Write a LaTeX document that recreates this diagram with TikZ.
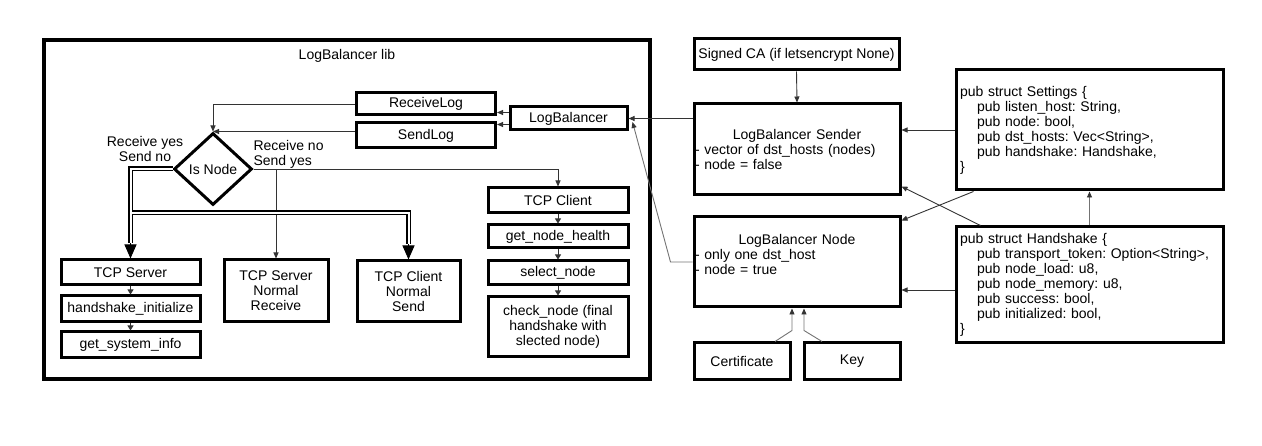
\documentclass[tikz,border=0pt]{standalone}
\usepackage{fontspec}
\setmainfont{Liberation Sans}
\usetikzlibrary{shapes.geometric,arrows.meta,calc}
\begin{document}
\frenchspacing
\begin{tikzpicture}[x=1pt,y=-1pt,
  every node/.style={font=\fontsize{14}{15}\selectfont},
  bx/.style={draw, line width=3pt, inner sep=1pt, align=center},
  conn/.style={draw=black!80, line width=0.9pt, -{Triangle[length=6pt,width=5pt]}},
  gconn/.style={draw=black!55, line width=0.9pt, -{Triangle[length=6pt,width=5pt,color=black!80]}},
  sconn/.style={draw=black!80, line width=0.9pt, -{Triangle[length=5pt,width=6pt]}},
  dblo/.style={draw=black, line width=5pt},
  dbli/.style={draw=white, line width=2pt},
  bigtip/.style={draw=black, line width=1pt, -{Triangle[length=14pt,width=12pt]}},
  structbox/.style={bx, inner sep=4pt, text width=259pt, align=left, minimum width=267pt}
]
\useasboundingbox (0,0) rectangle (1262,446);

% ---------- LogBalancer lib ----------
\node[bx, line width=3.5pt, minimum width=606pt, minimum height=339pt] (outer) at (347,209.5) {};
\node (libl) at (347,56) {LogBalancer lib};

\node[bx, minimum width=139pt, minimum height=22pt] (rl) at (426,104) {ReceiveLog};
\node[bx, minimum width=139pt, minimum height=25pt] (sl) at (426,135.5) {SendLog};
\node[bx, minimum width=117pt, minimum height=23pt] (lb) at (568.5,118.5) {LogBalancer};

\node[draw, diamond, line width=3pt, inner sep=0pt, minimum width=78pt, minimum height=72pt] (dia) at (213,169) {Is Node};
\node[align=center] (lyes) at (145,148.5) {Receive yes\\Send no};
\node[align=left, anchor=west] (lno) at (250,154) {Receive no\\Send yes};

\node[bx, minimum width=139pt, minimum height=25pt] (tcps) at (130.5,272.5) {TCP Server};
\node[bx, minimum width=139pt, minimum height=26pt] (hi) at (130.5,309) {handshake\_initialize};
\node[bx, minimum width=139pt, minimum height=26pt] (gsi) at (130.5,345) {get\_system\_info};

\node[bx, minimum width=104pt, minimum height=62pt] (srvr) at (276,291) {TCP Server\\Normal\\Receive};
\node[bx, minimum width=103pt, minimum height=61pt] (cns) at (408.5,291.5) {TCP Client\\Normal\\Send};

\node[bx, minimum width=140pt, minimum height=25pt] (tcpc) at (558,200.5) {TCP Client};
\node[bx, minimum width=140pt, minimum height=23pt] (gnh) at (558,236.5) {get\_node\_health};
\node[bx, minimum width=140pt, minimum height=24pt] (sn) at (558,273) {select\_node};
\node[bx, minimum width=140pt, minimum height=60pt] (cn) at (558,327) {check\_node (final\\handshake with\\slected node)};

% ---------- right side ----------
\node[bx, minimum width=205pt, minimum height=31pt] (ca) at (796.5,54.5) {Signed CA (if letsencrypt None)};
\node[bx, minimum width=206pt, minimum height=91pt, text width=204pt, align=left] (snd) at (797,149.5)
  {\makebox[204pt]{LogBalancer Sender}\\- vector of dst\_hosts (nodes)\\- node = false};
\node[bx, minimum width=206pt, minimum height=90pt, text width=204pt, align=left] (nb) at (797,262)
  {\makebox[204pt]{LogBalancer Node}\\- only one dst\_host\\- node = true\\\mbox{}};
\node[bx, minimum width=96pt, minimum height=37pt] (cert) at (742,361.5) {Certificate};
\node[bx, minimum width=96pt, minimum height=37pt] (key) at (852,361.5) {Key};

\node[structbox, minimum height=120pt] (set) at (1089.5,130)
  {pub struct Settings \{\\
   \hspace*{17pt}pub listen\_host: String,\\
   \hspace*{17pt}pub node: bool,\\
   \hspace*{17pt}pub dst\_hosts: Vec<String>,\\
   \hspace*{17pt}pub handshake: Handshake,\\
   \}};
\node[structbox, minimum height=116pt] (hs) at (1089.5,285)
  {pub struct Handshake \{\\
   \hspace*{17pt}pub transport\_token: Option<String>,\\
   \hspace*{17pt}pub node\_load: u8,\\
   \hspace*{17pt}pub node\_memory: u8,\\
   \hspace*{17pt}pub success: bool,\\
   \hspace*{17pt}pub initialized: bool,\\
   \}};

% ---------- connectors inside lib ----------
\draw[conn] (rl.west) -| (dia.north);
\draw[conn] (sl.west |- dia.north) -- (dia.north);
\path ([yshift=6pt]lb.west) coordinate (lbA);
\path ([yshift=-6pt]lb.west) coordinate (lbB);
\draw[conn] (lbA) -- (lbA -| rl.east);
\draw[conn] (lbB) -- (lbB -| sl.east);

\draw[conn] (dia.east) -| (tcpc.north);
\draw[conn] (dia.east -| srvr.north) -- (srvr.north);

\coordinate (yb) at (0,213);
\path ([yshift=15pt]tcps.north) coordinate (d1);
\path ([yshift=15pt]cns.north) coordinate (d2);
\draw[dblo] (dia.west) -| (d1);
\draw[dblo] (d1 |- yb) -| (d2);
\draw[dbli] (dia.west) -| (d1);
\draw[dbli] (d1 |- yb) -| (d2);
\draw[bigtip] (d1) -- (tcps.north);
\draw[bigtip] (d2) -- (cns.north);

\draw[sconn] (tcps.south) -- (hi.north);
\draw[sconn] (hi.south) -- (gsi.north);
\draw[sconn] (tcpc.south) -- (gnh.north);
\draw[sconn] (gnh.south) -- (sn.north);
\draw[sconn] (sn.south) -- (cn.north);

% ---------- connectors right side ----------
\draw[conn] (snd.west |- lb.east) -- (lb.east);
\draw[gconn] (nb.west) -- ++(-22,0) -- ([xshift=4pt,yshift=-3.5pt]lb.east);
\draw[conn] (ca.south) -- (snd.north);
\draw[conn] (set.west) -- (set.west -| snd.east);
\draw[conn] ([xshift=26pt]hs.north west) -- ([yshift=10pt]snd.south east);
\draw[conn] ([xshift=19pt]set.south west) -- ([yshift=-5pt]nb.north east);
\draw[gconn] (hs.north) -- (set.south);
\path ([yshift=-5pt]hs.west) coordinate (hsA);
\draw[conn] (hsA) -- (hsA -| nb.east);
\draw[gconn] ([xshift=33pt]cert.north) -- ++(17,-11) -- ([xshift=-5pt]nb.south);
\draw[gconn] ([xshift=-30pt]key.north) -- ++(-18,-11) -- ([xshift=7pt]nb.south);
\end{tikzpicture}
\end{document}
